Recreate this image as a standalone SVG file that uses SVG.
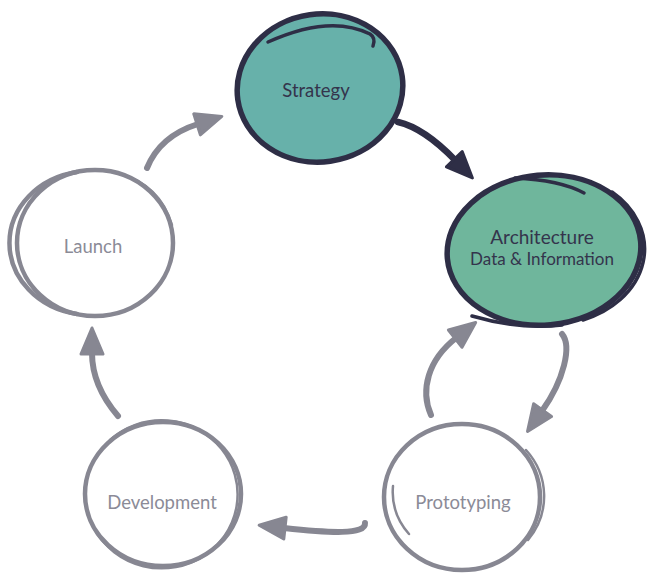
<svg xmlns="http://www.w3.org/2000/svg" width="651" height="581" viewBox="0 0 651 581">
<style>
.gray{fill:none;stroke:#878792;stroke-width:4.5;stroke-linecap:round}
.thin{fill:none;stroke:#878792;stroke-width:2.5;stroke-linecap:round}
.dark{stroke:#2e2e46;stroke-width:5.5;stroke-linecap:round}
.darkl{fill:none;stroke:#2e2e46;stroke-width:3.5;stroke-linecap:round}
.arr{fill:none;stroke:#878792;stroke-width:6;stroke-linecap:round}
.arrd{fill:none;stroke:#2e2e46;stroke-width:6.5;stroke-linecap:round}
.lbl{font-family:Lato,"Liberation Sans",sans-serif;font-size:18.5px;text-anchor:middle;fill:#8b8b97}
.lbld{font-family:Lato,"Liberation Sans",sans-serif;font-size:18.5px;text-anchor:middle;fill:#34344c}
</style>
<defs>
<marker id="hg" markerUnits="userSpaceOnUse" viewBox="0 0 30 26" markerWidth="30" markerHeight="26" refX="3" refY="13" orient="auto">
<path d="M2,2 L28,13 L2,24 Z" fill="#878792" stroke="#878792" stroke-width="3" stroke-linejoin="round"/>
</marker>
<marker id="hd" markerUnits="userSpaceOnUse" viewBox="0 0 30 26" markerWidth="30" markerHeight="26" refX="3" refY="13" orient="auto">
<path d="M2,2 L28,13 L2,24 Z" fill="#2e2e46" stroke="#2e2e46" stroke-width="3" stroke-linejoin="round"/>
</marker>
</defs>
<g id="connectors">
<path class="arr" d="M147,168 Q160,136 198,124" marker-end="url(#hg)"/>
<path class="arrd" d="M398,122 Q424,128 455,160" marker-end="url(#hd)"/>
<path class="arr" d="M562,334 C572,346 564,380 542,411" marker-end="url(#hg)"/>
<path class="arr" d="M431,415 C420,390 428,360 456,338" marker-end="url(#hg)"/>
<path class="arr" d="M365,523 C366,535 330,533 284,528" marker-end="url(#hg)"/>
<path class="arr" d="M118,416 C100,395 92,375 92,353" marker-end="url(#hg)"/>
</g>
<g id="strategy">
<ellipse cx="320" cy="88" rx="83" ry="74" transform="rotate(-8 320 88)" fill="#67b1aa" class="dark"/>
<path class="darkl" d="M268,42 Q330,14 370,34 Q376,38 373,46"/>
<text class="lbld" x="316" y="97">Strategy</text>
</g>
<g id="architecture">
<ellipse cx="544" cy="250" rx="97" ry="75" transform="rotate(-5 544 250)" fill="#6fb69c" class="dark"/>
<path class="darkl" d="M515,178 Q560,180 584,193"/>
<path class="darkl" d="M612,192 A96,76 0 0 1 583,320"/>
<path class="darkl" d="M472,316 Q520,330 562,325"/>
<text class="lbld" x="542" y="244" style="font-size:19px">Architecture</text>
<text class="lbld" x="542" y="265" style="font-size:17px">Data &amp; Information</text>
</g>
<g id="prototyping">
<ellipse cx="462" cy="497" rx="78" ry="73" class="gray"/>
<path class="thin" d="M393,486 A70,66 0 0 0 409,534"/>
<path class="thin" d="M526,450 A78,72 0 0 1 528,540"/>
<text class="lbl" x="463" y="509">Prototyping</text>
</g>
<g id="development">
<ellipse cx="163" cy="494" rx="78" ry="72" class="gray"/>
<path class="thin" d="M110,440 A76,74 0 1 1 95,530"/>
<text class="lbl" x="162" y="509">Development</text>
</g>
<g id="launch">
<ellipse cx="95" cy="243" rx="78" ry="73" class="gray"/>
<path class="gray" d="M77,172 A81,72 0 0 0 77,314"/>
<path class="thin" d="M120,174 Q160,185 172,225"/>
<text class="lbl" x="93" y="253">Launch</text>
</g>
</svg>
